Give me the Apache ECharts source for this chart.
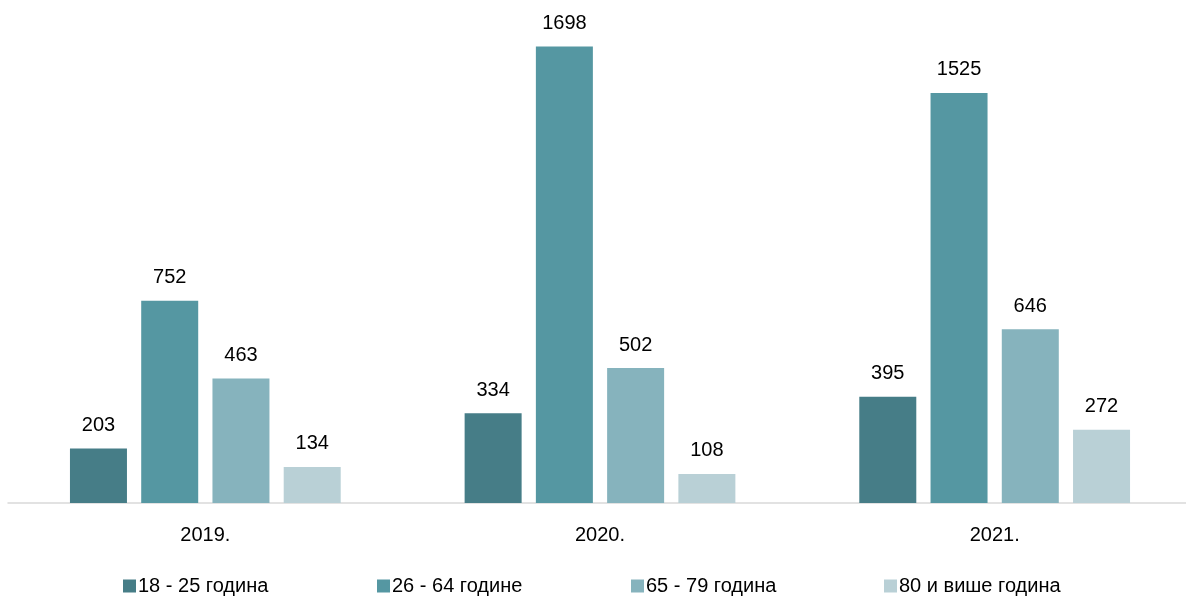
<!DOCTYPE html>
<html>
<head>
<meta charset="utf-8">
<script src="https://cdn.jsdelivr.net/npm/echarts@6/dist/echarts.min.js"></script>
<style>
    html, body { margin: 0; padding: 0; background: #fff; overflow: hidden; }
    #chart { width: 1192px; height: 603px; }
</style>
</head>
<body>
<div id="chart"></div>
<script>
const years = ['2019.', '2020.', '2021.']
const groups = ['18 - 25 година', '26 - 64 године', '65 - 79 година', '80 и више година']
const age18to25 = [203, 334, 395]
const age26to64 = [752, 1698, 1525]
const age65to79 = [463, 502, 646]
const age80plus = [134, 108, 272]
const colors = ['#467d87', '#5597a2', '#86b3bd', '#b9d0d6']

const values = [age18to25, age26to64, age65to79, age80plus]
const font = 'Liberation Sans, Arial, sans-serif'
const legendLeft = [118, 372, 626, 879]

let chart = echarts.init(document.getElementById('chart'))

let option = {
    animation: false,
    color: colors,
    grid: {
        left: 8,
        right: 0,
        top: 19,
        bottom: 100
    },
    // one legend per entry so the items sit at fixed spots
    legend: groups.map((name, i) => ({
        bottom: 2,
        left: legendLeft[i],
        itemWidth: 13,
        itemHeight: 13,
        itemGap: 5,
        icon: 'rect',
        textStyle: {
            fontFamily: font,
            fontSize: 20,
            color: '#000',
            padding: [0, 0, 0, -3]
        },
        data: [name]
    })),
    xAxis: {
        type: 'category',
        data: years,
        axisLine: { lineStyle: { color: '#d9d9d9', width: 1.5 } },
        axisTick: { show: false },
        axisLabel: {
            fontFamily: font,
            fontSize: 20,
            color: '#000',
            margin: 22
        }
    },
    yAxis: {
        type: 'value',
        min: 0,
        max: 1800,
        show: false,
        splitLine: { show: false }
    },
    series: groups.map((name, i) => ({
        name: name,
        type: 'bar',
        barWidth: 57,
        barGap: '25%',
        data: values[i],
        label: {
            show: true,
            position: 'top',
            distance: 13,
            fontFamily: font,
            fontSize: 20,
            color: '#000'
        }
    }))
}

chart.setOption(option)
</script>
</body>
</html>
